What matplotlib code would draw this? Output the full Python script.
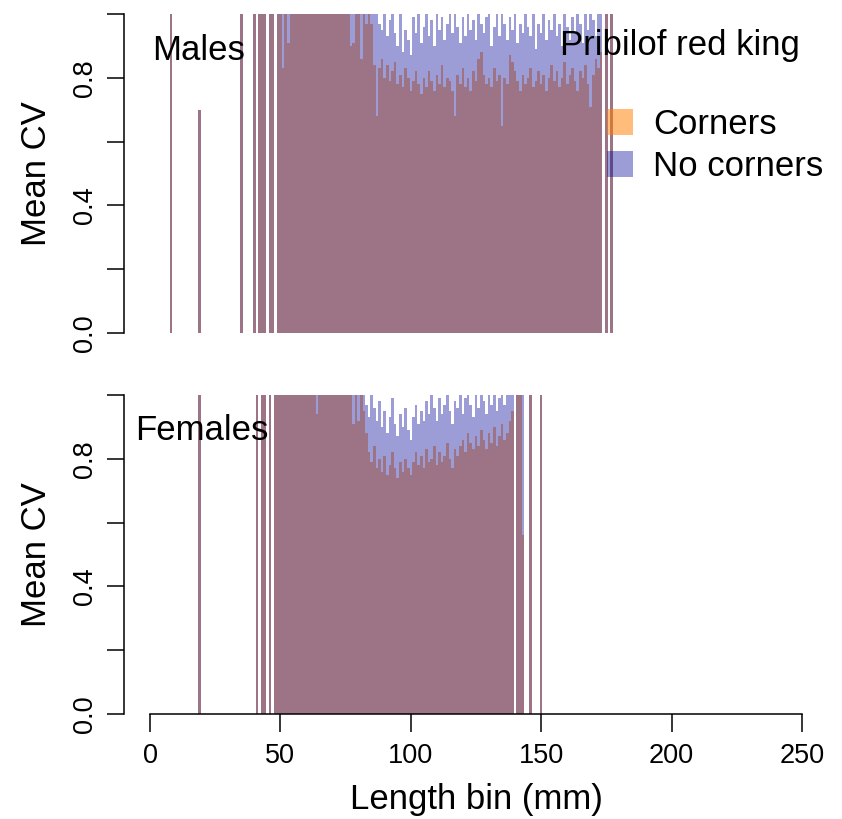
import matplotlib
matplotlib.use("Agg")
import matplotlib.pyplot as plt
from matplotlib.patches import Patch

plt.rcParams['font.family'] = ['Liberation Sans', 'DejaVu Sans']

# mean CV per 1 mm length bin, Pribilof red king crab
# values above 1 are cut off by the axis (ylim 0-1)

male_bins = [8, 19, 35, 40, 42, 43, 44, 46, 47] + list(range(49, 174)) + [175, 177]

male_corners = [
    1.20, 0.70, 1.15, 1.10, 1.30, 1.25, 1.20, 1.35, 1.28,
    # 49-84
    1.25, 1.18, 0.83, 1.10, 0.91, 1.30, 1.22, 1.40, 1.15, 1.28,
    1.36, 1.20, 1.31, 1.17, 1.24, 1.12, 1.19, 1.08, 1.14, 1.21,
    1.10, 1.06, 1.12, 1.05, 1.09, 1.03, 1.07, 1.02, 0.90, 0.91,
    1.04, 1.01, 0.86, 1.02, 0.97, 1.01,
    # 85-173
    0.97, 0.84, 0.68, 0.83, 0.86, 0.80, 0.84, 0.79, 0.82, 0.85,
    0.78, 0.81, 0.77, 0.83, 0.80, 0.76, 0.79, 0.82, 0.78, 0.75,
    0.80, 0.77, 0.82, 0.79, 0.76, 0.81, 0.78, 0.84, 0.77, 0.80,
    0.79, 0.76, 0.68, 0.81, 0.78, 0.83, 0.77, 0.80, 0.76, 0.82,
    0.79, 0.86, 0.88, 0.81, 0.78, 0.80, 0.77, 0.83, 0.79, 0.81,
    0.65, 0.80, 0.78, 0.87, 0.85, 0.82, 0.79, 0.76, 0.81, 0.78,
    0.80, 0.83, 0.77, 0.79, 0.82, 0.78, 0.81, 0.76, 0.80, 0.84,
    0.79, 0.82, 0.77, 0.80, 0.85, 0.78, 0.81, 0.83, 0.79, 0.76,
    0.82, 0.80, 0.84, 0.78, 0.71, 0.81, 0.86, 0.83, 0.88,
    # 175, 177
    1.20, 1.15]

male_nocorners = [
    1.25, 0.70, 1.20, 1.15, 1.35, 1.30, 1.25, 1.30, 1.32,
    # 49-84
    1.40, 1.32, 1.28, 1.45, 1.36, 1.50, 1.42, 1.38, 1.30, 1.35,
    1.44, 1.29, 1.33, 1.26, 1.38, 1.22, 1.31, 1.19, 1.27, 1.24,
    1.18, 1.21, 1.15, 1.20, 1.12, 1.17, 1.10, 1.14, 1.08, 1.11,
    1.06, 1.09, 1.04, 1.07, 1.03, 1.05,
    # 85-173
    1.05, 1.02, 1.08, 0.97, 0.95, 1.01, 0.93, 0.98, 1.03, 0.94,
    0.90, 1.02, 0.88, 0.95, 0.92, 0.87, 0.99, 0.94, 1.04, 0.91,
    0.96, 1.01, 0.93, 0.98, 0.90, 1.03, 0.95, 0.99, 0.92, 0.97,
    1.02, 0.94, 1.06, 0.96, 0.91, 0.99, 0.93, 1.01, 0.95, 0.98,
    0.92, 1.03, 0.97, 0.94, 0.99, 1.02, 0.90, 0.96, 1.01, 0.93,
    1.04, 0.97, 0.92, 0.99, 0.95, 1.02, 0.91, 0.97, 0.94, 1.00,
    0.96, 0.93, 1.01, 0.89, 0.97, 0.94, 1.02, 0.92, 0.98, 0.95,
    1.01, 0.93, 0.97, 0.90, 1.03, 0.96, 0.92, 0.99, 0.94, 1.02,
    0.97, 0.91, 1.00, 0.95, 1.05, 0.98, 0.93, 1.01, 1.04,
    # 175, 177
    1.25, 1.20]

female_bins = [19, 41, 43, 44, 46] + list(range(48, 140)) + [141, 142, 143, 146, 150]

female_corners = [
    1.20, 1.25, 1.30, 1.22, 1.18,
    # 48-139
    1.30, 1.25, 1.40, 1.20, 1.35, 1.28, 1.18, 1.32, 1.22, 1.15,
    1.27, 1.19, 1.24, 1.12, 1.20, 1.16, 0.94, 1.10, 1.14, 1.08,
    1.12, 1.05, 1.09, 1.06, 1.11, 1.03, 1.07, 1.02, 1.05, 1.01,
    0.91, 1.03, 0.92, 1.02, 0.95, 0.88, 0.82, 0.79, 0.84, 0.77,
    0.80, 0.76, 0.81, 0.75, 0.78, 0.82, 0.77, 0.74, 0.79, 0.76,
    0.80, 0.77, 0.75, 0.79, 0.82, 0.78, 0.81, 0.77, 0.83, 0.79,
    0.80, 0.84, 0.78, 0.82, 0.79, 0.81, 0.85, 0.80, 0.77, 0.83,
    0.81, 0.84, 0.86, 0.82, 0.88, 0.85, 0.83, 0.87, 0.84, 0.89,
    0.86, 0.83, 0.88, 0.85, 0.90, 0.84, 0.87, 0.91, 0.86, 0.88,
    0.92, 0.95,
    # 141, 142, 143, 146, 150
    1.15, 1.10, 0.56, 1.20, 1.25]

female_nocorners = [
    1.25, 1.30, 1.35, 1.28, 1.22,
    # 48-139
    1.40, 1.36, 1.45, 1.30, 1.42, 1.33, 1.27, 1.38, 1.29, 1.24,
    1.35, 1.26, 1.31, 1.20, 1.28, 1.22, 1.18, 1.25, 1.19, 1.15,
    1.21, 1.13, 1.17, 1.12, 1.16, 1.10, 1.14, 1.08, 1.11, 1.07,
    1.05, 1.08, 1.02, 1.06, 1.01, 0.97, 0.93, 1.00, 0.96, 0.92,
    0.98, 0.90, 0.95, 0.88, 0.93, 0.99, 0.91, 0.87, 0.94, 0.90,
    0.96, 0.89, 0.86, 0.93, 0.97, 0.91, 0.95, 0.92, 0.98, 0.94,
    1.01, 0.96, 0.92, 0.99, 0.94, 0.97, 1.02, 0.95, 0.91, 0.98,
    0.96, 1.01, 0.94, 0.99, 1.03, 0.97, 0.93, 1.00, 0.96, 1.02,
    0.98, 0.94, 1.01, 0.97, 1.04, 0.95, 0.99, 1.02, 0.97, 1.05,
    1.03, 1.08,
    # 141, 142, 143, 146, 150
    1.20, 1.18, 1.15, 1.25, 1.30]

col_corners = (1.0, 0.5, 0.0, 0.52)
col_nocorners = (0.03, 0.03, 0.6, 0.4)

W, H = 842, 819
fig = plt.figure(figsize=(W / 100, H / 100), dpi=100)
ax1 = fig.add_axes([124 / W, 1 - 333 / H, 704 / W, 319 / H])
ax2 = fig.add_axes([124 / W, 1 - 714 / H, 704 / W, 319 / H])

panels = [(ax1, male_bins, male_corners, male_nocorners),
          (ax2, female_bins, female_corners, female_nocorners)]

for ax, bins, corners, nocorners in panels:
    ax.bar(bins, corners, width=1, color=col_corners, linewidth=0)
    ax.bar(bins, nocorners, width=1, color=col_nocorners, linewidth=0)
    ax.set_xlim(-10, 260)
    ax.set_ylim(0, 1)
    ax.spines['top'].set_visible(False)
    ax.spines['right'].set_visible(False)
    ax.spines['left'].set_bounds(0, 1)
    ax.spines['left'].set_linewidth(1.1)
    ax.set_yticks([0, 0.2, 0.4, 0.6, 0.8, 1.0])
    ax.set_yticklabels(['0.0', '', '0.4', '', '0.8', ''], rotation=90, va='center')
    ax.tick_params(axis='y', length=12.5, width=1.1, labelsize=19.5, pad=6)

ax1.spines['bottom'].set_visible(False)
ax1.set_xticks([])

ax2.spines['bottom'].set_bounds(0, 250)
ax2.spines['bottom'].set_linewidth(1.1)
ax2.set_xticks([0, 50, 100, 150, 200, 250])
ax2.tick_params(axis='x', length=13, width=1.1, labelsize=19.5, pad=8)

ax1.text(0.8, 0.886, 'Males', fontsize=25, va='center', ha='left')
ax1.text(157.2, 0.90, 'Pribilof red king', fontsize=25, va='center', ha='left')
ax2.text(-5.8, 0.89, 'Females', fontsize=25, va='center', ha='left')

fig.text(36 / W, 1 - 173.5 / H, 'Mean CV', rotation=90, ha='center', va='center', fontsize=25)
fig.text(36 / W, 1 - 554.5 / H, 'Mean CV', rotation=90, ha='center', va='center', fontsize=25)
fig.text(476 / W, 1 - 800 / H, 'Length bin (mm)', ha='center', va='center', fontsize=25)

handles = [Patch(facecolor=col_corners, linewidth=0), Patch(facecolor=col_nocorners, linewidth=0)]
ax1.legend(handles, ['Corners', 'No corners'], loc='upper left',
           bbox_to_anchor=(607 / W, 1 - 108 / H), bbox_transform=fig.transFigure,
           frameon=False, fontsize=25, handlelength=0.75, handleheight=0.75,
           handletextpad=0.57, labelspacing=0.26, borderpad=0, borderaxespad=0)

fig.savefig('out.png', dpi=100)
